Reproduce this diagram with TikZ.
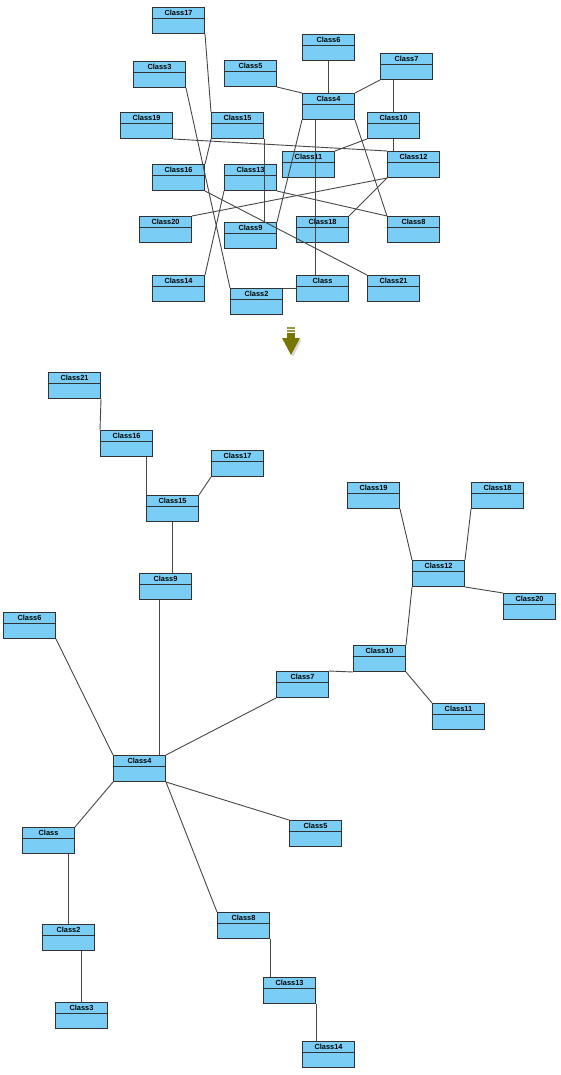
\documentclass[tikz,border=0pt]{standalone}
\usepackage{fontspec}
\setmainfont{Liberation Sans}
\usetikzlibrary{positioning,calc}
\definecolor{clsfill}{RGB}{122,206,245}
\definecolor{clsdraw}{RGB}{50,50,50}
\definecolor{edgecol}{RGB}{70,70,70}
\definecolor{arrowol}{RGB}{118,118,0}

\tikzset{
  cls/.style={draw=clsdraw, fill=clsfill, line width=1pt,
    minimum width=52pt, minimum height=26pt, inner sep=0pt, anchor=north west,
    path picture={\draw[clsdraw,line width=0.9pt]
      ([yshift=-10.5pt]path picture bounding box.north west) --
      ([yshift=-10.5pt]path picture bounding box.north east);},
    label={[font=\bfseries\fontsize{7.4}{8}\selectfont, anchor=north,
      inner sep=0pt, yshift=-2.6pt]north:#1}},
  assoc/.style={draw=edgecol, line width=0.9pt}
}

\begin{document}
\begin{tikzpicture}[x=1pt,y=-1pt]
  \useasboundingbox (0,0) rectangle (560,1075);
  % before layout
  \foreach \txt/\nm/\x/\y in {Class17/o17/152/7, Class6/o6/302/34, Class3/o3/133/61,
      Class5/o5/224/60, Class7/o7/380/53, Class4/o4/302/93, Class19/o19/120/112,
      Class15/o15/211/112, Class10/o10/367/112, Class11/o11/282/151,
      Class12/o12/387/151, Class16/o16/152/164, Class13/o13/224/164,
      Class20/o20/139/216, Class9/o9/224/222, Class18/o18/296/216,
      Class8/o8/387/216, Class14/o14/152/275, Class/o1/296/275,
      Class21/o21/367/275, Class2/o2/230/288}
    \node[cls=\txt] (\nm) at (\x,\y) {};
  \draw[assoc] (o17.south east) -- (o15.north west);
  \draw[assoc] (o15.south west) -- (o16.north east);
  \draw[assoc] (o15.south east) -- (o15.south east |- o9.north);
  \draw[assoc] (o9.north east) -- (o4.south west);
  \draw[assoc] ([xshift=13pt]o4.south west) -- ([xshift=13pt]o4.south west |- o1.north);
  \draw[assoc] (o4.south east) -- (o8.north west);
  \draw[assoc] (o4.north west) -- (o5.south east);
  \draw[assoc] (o4.north) -- (o6.south);
  \draw[assoc] (o4.north east) -- (o7.south west);
  \draw[assoc] (o10.north) -- (o10.north |- o7.south);
  \draw[assoc] (o10.south) -- (o10.south |- o12.north);
  \draw[assoc] (o10.south west) -- (o11.north east);
  \draw[assoc] (o19.south east) -- (o12.north west);
  \draw[assoc] (o12.south west) -- (o20.north east);
  \draw[assoc] (o12.south west) -- (o18.north east);
  \draw[assoc] (o13.south east) -- (o8.north west);
  \draw[assoc] (o16.south east) -- (o21.north west);
  \draw[assoc] (o13.south west) -- (o14.north east);
  \draw[assoc] (o2.north east) -- (o2.north east -| o1.west);
  \draw[assoc] (o3.south east) -- (o2.north west);
  % arrow
  \fill[gray!30] (284,339.5) -- (302,339.5) -- (293,357) -- cycle;
  \fill[arrowol!75!white] (287,327) rectangle (295,329);
  \fill[arrowol!75!white] (287,330) rectangle (295,332);
  \fill[arrowol] (287,333) rectangle (295,338);
  \fill[arrowol] (282,338) -- (300,338) -- (291,355) -- cycle;
  % after layout
  \foreach \txt/\nm/\x/\y in {Class21/n21/48/372, Class16/n16/100/430,
      Class17/n17/211/450, Class15/n15/146/495, Class9/n9/139/573,
      Class6/n6/3/612, Class19/n19/347/482, Class18/n18/471/482,
      Class12/n12/412/560, Class20/n20/503/593, Class10/n10/353/645,
      Class7/n7/276/671, Class11/n11/432/703, Class4/n4/113/755,
      Class/n1/22/827, Class5/n5/289/820, Class8/n8/217/912,
      Class2/n2/42/924, Class13/n13/263/977, Class3/n3/55/1002,
      Class14/n14/302/1041}
    \node[cls=\txt] (\nm) at (\x,\y) {};
  \draw[assoc] (n21.south east) -- (n16.north west);
  \draw[assoc] (n15.north west) -- (n15.north west |- n16.south);
  \draw[assoc] (n17.south west) -- (n15.north east);
  \draw[assoc] (n15.south) -- (n15.south |- n9.north);
  \draw[assoc] ([xshift=-7pt]n4.north east) -- ([xshift=-7pt]n4.north east |- n9.south);
  \draw[assoc] (n4.north west) -- (n6.south east);
  \draw[assoc] (n4.north east) -- (n7.south west);
  \draw[assoc] (n7.north east) -- (n10.south west);
  \draw[assoc] (n10.north east) -- (n12.south west);
  \draw[assoc] (n10.south east) -- (n11.north west);
  \draw[assoc] (n12.north west) -- (n19.south east);
  \draw[assoc] (n12.north east) -- (n18.south west);
  \draw[assoc] (n12.south east) -- (n20.north west);
  \draw[assoc] (n4.south west) -- (n1.north east);
  \draw[assoc] (n4.south east) -- (n5.north west);
  \draw[assoc] (n4.south east) -- (n8.north west);
  \draw[assoc] (n2.north) -- (n2.north |- n1.south);
  \draw[assoc] (n3.north) -- (n3.north |- n2.south);
  \draw[assoc] (n8.south east) -- (n8.south east |- n13.north);
  \draw[assoc] (n13.south east) -- (n13.south east |- n14.north);
\end{tikzpicture}
\end{document}
